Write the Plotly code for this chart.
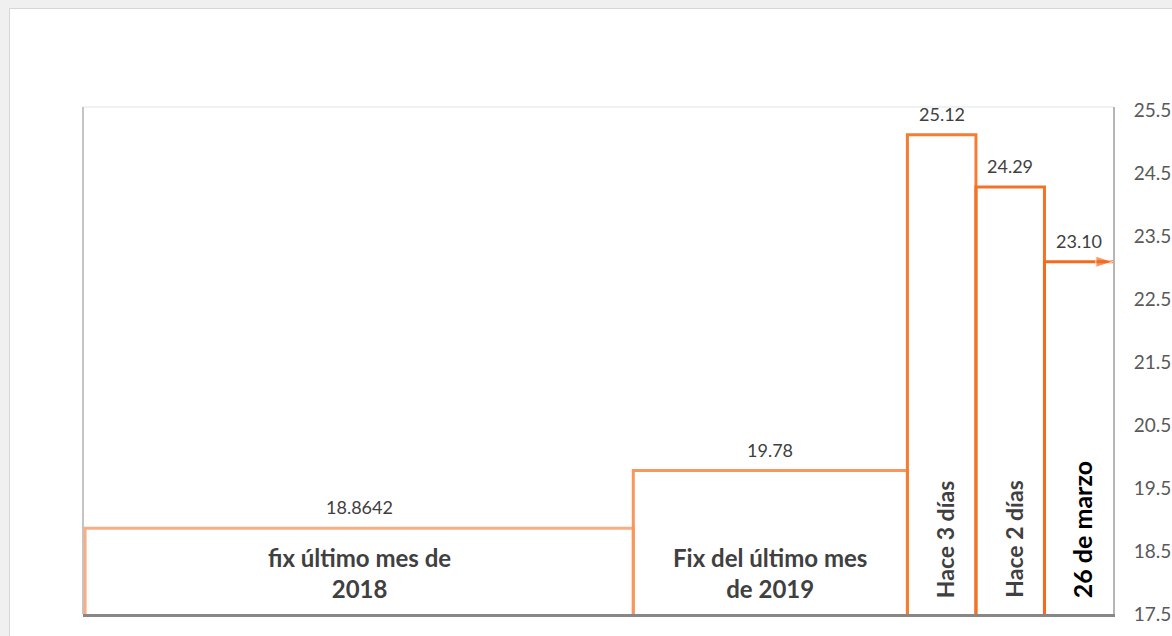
import plotly.graph_objects as go

# ---- data ----
categorias = ["fix último mes de<br>2018", "Fix del último mes<br>de 2019",
              "Hace 3 días", "Hace 2 días", "26 de marzo"]
valores = [18.8642, 19.78, 25.12, 24.29, 23.10]
etiquetas_valor = ["18.8642", "19.78", "25.12", "24.29", "23.10"]
periodos = [8, 4, 1, 1, 1]          # relative width of each period
tick_vals = [17.5, 18.5, 19.5, 20.5, 21.5, 22.5, 23.5, 24.5, 25.5]
tick_labels = ["17.5", "18.5", "19.5", "20.5", "21.5", "22.5", "23.5", "24.5", "25.5"]

# ---- styles ----
colores = ["#f8ae84", "#f8975c", "#f57c33", "#f47228", "#f26b1f"]
Y_MIN, Y_MAX = 17.5, 25.56
FONT = "Lato"

fig = go.Figure()

x0 = 0
bordes = []
for i, (v, w) in enumerate(zip(valores, periodos)):
    x1 = x0 + w
    bordes.append((x0, x1))
    last = i == len(valores) - 1
    if not last:
        fig.add_trace(go.Scatter(x=[x0, x0, x1, x1], y=[Y_MIN, v, v, Y_MIN], mode="lines",
                                 line=dict(color=colores[i], width=3),
                                 hoverinfo="skip", showlegend=False))
    else:
        fig.add_trace(go.Scatter(x=[x0, x0, x1], y=[Y_MIN, v, v], mode="lines+markers",
                                 line=dict(color=colores[i], width=3),
                                 marker=dict(symbol="arrow", angleref="previous",
                                             size=[0, 0, 18], color=colores[i]),
                                 cliponaxis=False,
                                 hoverinfo="skip", showlegend=False))
    x0 = x1

annotations = []
for i, ((a, b), v) in enumerate(zip(bordes, valores)):
    c = (a + b) / 2
    annotations.append(dict(x=c, y=v, xref="x", yref="y", text=etiquetas_valor[i],
                            showarrow=False, yanchor="bottom", yshift=8,
                            font=dict(family=FONT, size=18, color="#404040")))
    if i < 2:
        annotations.append(dict(x=c, y=Y_MIN, xref="x", yref="y", text="<b>%s</b>" % categorias[i],
                                showarrow=False, yanchor="bottom", yshift=9,
                                font=dict(family=FONT, size=24, color="#404040")))
    else:
        col = "#000000" if i == 4 else "#404040"
        size = 25 if i == 4 else 23
        annotations.append(dict(x=c, y=Y_MIN, xref="x", yref="y", text="<b>%s</b>" % categorias[i],
                                showarrow=False, yanchor="bottom", yshift=14, xshift=3,
                                textangle=-90,
                                font=dict(family=FONT, size=size, color=col)))

W, H = 1172, 636
L, R, T, B = 83, 59, 107, 22
pw, ph = W - L - R, H - T - B

def px(xp):
    return (xp - L) / pw

def py(yp):
    return (H - B - yp) / ph

shapes = [
    # white chart area with a light border
    dict(type="rect", xref="paper", yref="paper", x0=px(9.5), x1=px(W + 10),
         y0=py(H + 10), y1=py(8.5),
         fillcolor="white", line=dict(color="#d6d6d6", width=1), layer="below"),
    # plot frame: top and left
    dict(type="line", xref="paper", yref="paper", x0=0, x1=1, y0=1, y1=1,
         line=dict(color="#eef1f6", width=2), layer="below"),
    dict(type="line", xref="paper", yref="paper", x0=0, x1=0, y0=0, y1=1,
         line=dict(color="#c4c4c4", width=2), layer="below"),
]

fig.update_layout(
    width=W, height=H,
    margin=dict(l=L, r=R, t=T, b=B, autoexpand=False),
    paper_bgcolor="#f0f0f0",
    plot_bgcolor="white",
    annotations=annotations,
    shapes=shapes,
    showlegend=False,
    xaxis=dict(range=[-0.03, sum(periodos)], showticklabels=False, showgrid=False,
               zeroline=False, showline=True, linecolor="#878787", linewidth=3,
               fixedrange=True, automargin=False),
    yaxis=dict(range=[Y_MIN, Y_MAX], side="right", tickvals=tick_vals, ticktext=tick_labels,
               showgrid=False, zeroline=False, showline=True, linecolor="#b5b5b5",
               linewidth=2, ticks="", ticklabelstandoff=15, automargin=False,
               tickfont=dict(family=FONT, size=19, color="#595959"), fixedrange=True),
)

fig.write_html("out.html", config={"displayModeBar": False},
               post_script="document.body.style.margin='0';document.body.style.overflow='hidden';")
